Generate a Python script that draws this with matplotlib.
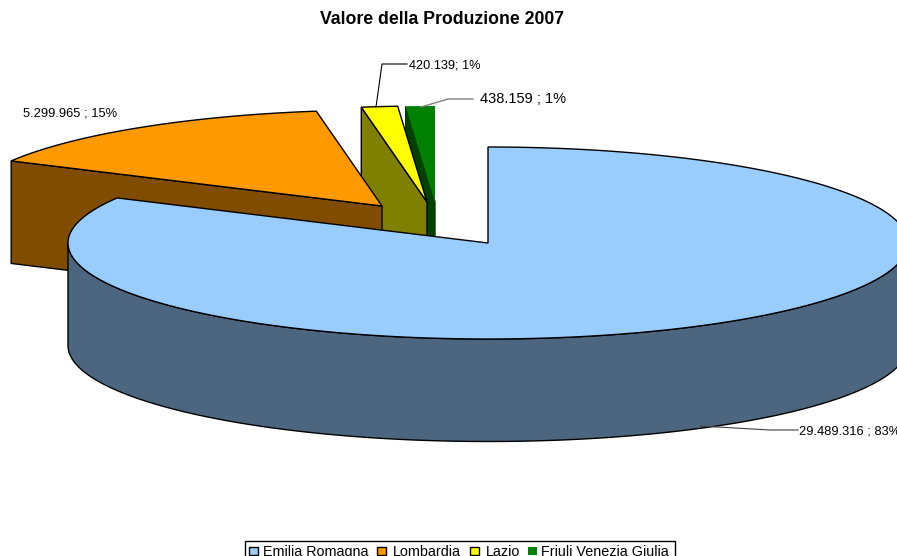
import numpy as np
import matplotlib
matplotlib.use("Agg")
import matplotlib.pyplot as plt
from matplotlib.patches import Polygon, Rectangle

plt.rcParams["font.family"] = ["Liberation Sans", "DejaVu Sans"]

regions = ["Emilia Romagna", "Lombardia", "Lazio", "Friuli Venezia Giulia"]
values = [29489316, 5299965, 420139, 438159]
colors = ["#99CCFF", "#FF9900", "#FFFF00", "#008000"]
sides = ["#4D6680", "#804D00", "#808000", "#004000"]
edges = ["black", "black", "black", "none"]
value_labels = ["29.489.316 ; 83%", "5.299.965 ; 15%", "420.139; 1%", "438.159 ; 1%"]

# pie geometry in pixels
rx, ry, depth = 420, 96, 102.5
apex = [(488, 243), (382, 206), (427, 202), (435, 202)]

fig = plt.figure(figsize=(8.97, 5.56), dpi=100)
ax = fig.add_axes([0, 0, 1, 1])
ax.set_xlim(0, 897)
ax.set_ylim(556, 0)
ax.axis("off")


def rim(t, c):
    # t in degrees, clockwise from 12 o'clock
    t = np.radians(t)
    return np.column_stack([c[0] + rx * np.sin(t), c[1] - ry * np.cos(t)])


# slice borders fall on whole degrees in the original
ends = np.round(np.cumsum(values) / sum(values) * 360)
starts = np.concatenate([[0], ends[:-1]])

# back to front: green, yellow, orange, blue
for i in [3, 2, 1, 0]:
    c = apex[i]
    t0, t1 = starts[i], ends[i]
    down = np.array([0, depth])
    side_edge = edges[i] if edges[i] != "none" else sides[i]

    # cut face seen by the viewer
    if t0 > 180:
        p0 = rim([t0], c)[0]
        face = [p0, c, np.array(c) + down, p0 + down]
        ax.add_patch(Polygon(face, fc=sides[i], ec=side_edge, lw=1))

    # outer wall
    a, b = max(t0, 90), min(t1, 270)
    if a < b:
        arc = rim(np.linspace(a, b, 200), c)
        wall = np.vstack([arc, (arc + down)[::-1]])
        ax.add_patch(Polygon(wall, fc=sides[i], ec=side_edge, lw=1))

    # top
    arc = rim(np.linspace(t0, t1, 300), c)
    top = np.vstack([[c], arc])
    ax.add_patch(Polygon(top, fc=colors[i], ec=edges[i], lw=1))

# leaders
ax.plot([700, 770, 798], [426, 430, 430], color="#404040", lw=0.8)
ax.plot([376, 382, 407], [107, 64, 64], color="black", lw=0.8)
ax.plot([421, 448, 473], [107, 99, 99], color="#808080", lw=1)

ax.text(799, 431, value_labels[0], fontsize=9.3, va="center", ha="left")
ax.text(23, 113, value_labels[1], fontsize=9.3, va="center", ha="left")
ax.text(409, 65, value_labels[2], fontsize=9.2, va="center", ha="left")
ax.text(480, 99, value_labels[3], fontsize=10.5, va="center", ha="left")

ax.text(442, 20, "Valore della Produzione 2007", fontsize=12.7, fontweight="bold",
        ha="center", va="center")

# legend, runs off the bottom of the picture like the original
ax.add_patch(Rectangle((245, 541), 430, 30, fc="white", ec="black", lw=1))
swatch_x = [249, 377, 470, 528]
text_x = [263, 393, 486, 541]
for i in range(4):
    ax.add_patch(Rectangle((swatch_x[i], 547), 9, 8, fc=colors[i], ec=edges[i], lw=1))
    ax.text(text_x[i], 556, regions[i], fontsize=10.4, ha="left", va="baseline")

fig.savefig("out.png", dpi=100)
